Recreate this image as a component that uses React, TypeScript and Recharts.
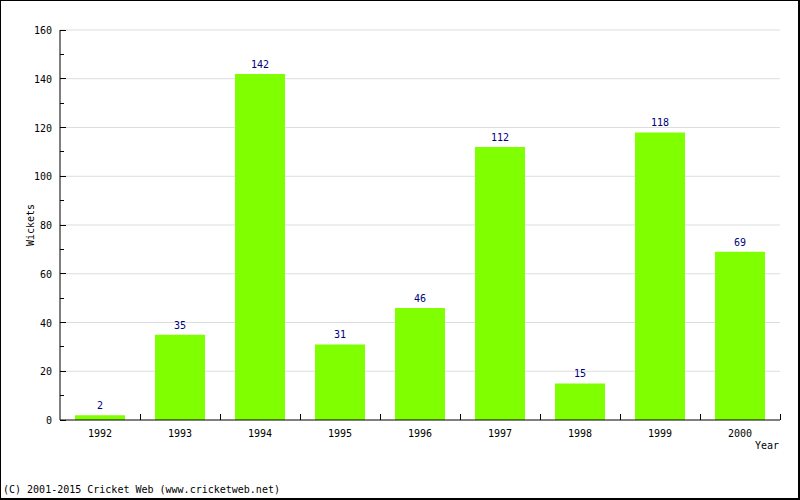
import { BarChart, Bar, XAxis, YAxis, CartesianGrid, LabelList } from "recharts";

const years = ["1992", "1993", "1994", "1995", "1996", "1997", "1998", "1999", "2000"];
const wickets = [2, 35, 142, 31, 46, 112, 15, 118, 69];
const yTicks = [0, 10, 20, 30, 40, 50, 60, 70, 80, 90, 100, 110, 120, 130, 140, 150, 160];
const gridValues = [20, 40, 60, 80, 100, 120, 140, 160];

const chartData = years.map((year, i) => ({ year, wickets: wickets[i] }));

const FONT = "'DejaVu Sans Mono', monospace";
const BAND = 720 / years.length;

function YTick({ x, y, payload }: any) {
     const major = payload.value % 20 === 0;
     const axisX = x + 8;
     return (
          <g>
               <line
                    x1={axisX}
                    x2={axisX + (major ? 6 : 4)}
                    y1={y}
                    y2={y}
                    stroke="#000"
                    strokeWidth={1}
                    shapeRendering="crispEdges"
               />
               {major && (
                    <text x={x} y={y + 4} textAnchor="end" fontSize={10} fontFamily={FONT} fill="#000">
                         {payload.value}
                    </text>
               )}
          </g>
     );
}

function XTick({ x, y, payload }: any) {
     return (
          <g>
               <line
                    x1={x + BAND / 2}
                    x2={x + BAND / 2}
                    y1={y - 6}
                    y2={y}
                    stroke="#000"
                    strokeWidth={1}
                    shapeRendering="crispEdges"
               />
               <text x={x} y={y + 17} textAnchor="middle" fontSize={10} fontFamily={FONT} fill="#000">
                    {payload.value}
               </text>
          </g>
     );
}

export default function App() {
     return (
          <div style={{ position: "relative", width: 800, height: 500, background: "#fff" }}>
               <style>{`body{margin:0}`}</style>
               <BarChart
                    width={800}
                    height={500}
                    data={chartData}
                    margin={{ top: 30, right: 20, left: 10, bottom: 50 }}
                    barCategoryGap="18.75%"
               >
                    <CartesianGrid
                         vertical={false}
                         stroke="#dddddd"
                         strokeWidth={1}
                         horizontalValues={gridValues}
                    />
                    <XAxis
                         dataKey="year"
                         height={30}
                         tickSize={0}
                         tickMargin={0}
                         tickLine={false}
                         axisLine={{ stroke: "#000", strokeWidth: 1 }}
                         tick={<XTick />}
                         interval={0}
                         label={{
                              content: (props: any) => {
                                   const vb = props.viewBox;
                                   return (
                                        <text
                                             x={vb.x + vb.width - 1}
                                             y={vb.y + 29}
                                             textAnchor="end"
                                             fontSize={10}
                                             fontFamily={FONT}
                                             fill="#000"
                                        >
                                             Year
                                        </text>
                                   );
                              },
                         }}
                    />
                    <YAxis
                         width={50}
                         domain={[0, 160]}
                         ticks={yTicks}
                         interval={0}
                         tickSize={0}
                         tickMargin={8}
                         tickLine={false}
                         axisLine={{ stroke: "#000", strokeWidth: 1 }}
                         tick={<YTick />}
                         label={{
                              content: (props: any) => {
                                   const vb = props.viewBox;
                                   const cy = vb.y + vb.height / 2;
                                   return (
                                        <text
                                             x={34}
                                             y={cy}
                                             transform={`rotate(-90, 34, ${cy})`}
                                             textAnchor="middle"
                                             fontSize={10}
                                             fontFamily={FONT}
                                             fill="#000"
                                        >
                                             Wickets
                                        </text>
                                   );
                              },
                         }}
                    />
                    <Bar dataKey="wickets" fill="#80ff00" isAnimationActive={false}>
                         <LabelList
                              dataKey="wickets"
                              position="top"
                              offset={6}
                              fill="#000080"
                              fontSize={10}
                              fontFamily={FONT}
                         />
                    </Bar>
               </BarChart>
               <div
                    style={{
                         position: "absolute",
                         left: 3,
                         top: 484,
                         fontSize: 10,
                         fontFamily: FONT,
                         lineHeight: "12px",
                         color: "#000",
                         whiteSpace: "pre",
                    }}
               >
                    (C) 2001-2015 Cricket Web (www.cricketweb.net)
               </div>
               <div
                    style={{
                         position: "absolute",
                         left: 0,
                         top: 0,
                         width: 800,
                         height: 500,
                         boxSizing: "border-box",
                         borderLeft: "1px solid #000",
                         borderTop: "1px solid #000",
                         borderRight: "2px solid #000",
                         borderBottom: "2px solid #000",
                         pointerEvents: "none",
                    }}
               />
          </div>
     );
}
